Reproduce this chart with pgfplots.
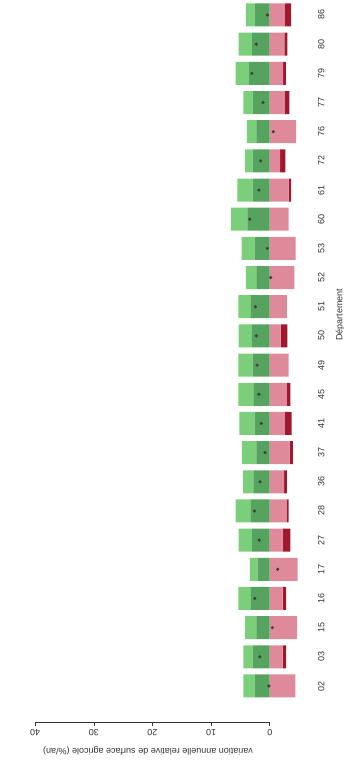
\documentclass[border=0pt]{standalone}
\usepackage{pgfplots}
\pgfplotsset{compat=1.18}
\usepackage{pgfplotstable}
\usepackage{fontspec}
\setmainfont{Liberation Sans}
\definecolor{lgreen}{HTML}{7CCF7A}
\definecolor{dgreen}{HTML}{55A35E}
\definecolor{rpink}{HTML}{DE8A9A}
\definecolor{dred}{HTML}{A0182E}
\definecolor{txt}{HTML}{333333}

% i  DG  LG  P  DR  net
\pgfplotstableread{
i  dg   lg    p      dr     net
0  2.6  1.9   -4.35  0      0.15
1  2.9  1.6   -2.2   -0.6   1.7
2  2.3  1.9   -4.65  0      -0.45
3  3.2  2.15  -2.2   -0.6   2.55
4  2.05 1.35  -4.75  0      -1.35
5  3.0  2.3   -2.2   -1.3   1.8
6  3.2  2.6   -2.9   -0.3   2.6
7  2.8  1.75  -2.45  -0.45  1.65
8  2.3  2.45  -3.4   -0.55  0.8
9  2.6  2.6   -2.6   -1.15  1.45
10 2.8  2.55  -2.9   -0.6   1.85
11 2.9  2.45  -3.2   0      2.15
12 3.0  2.3   -1.85  -1.15  2.3
13 3.2  2.15  -2.9   0      2.45
14 2.3  1.75  -4.2   0      -0.15
15 2.6  2.2   -4.4   0      0.4
16 3.8  2.8   -3.2   0      3.4
17 2.9  2.6   -3.2   -0.45  1.85
18 2.9  1.3   -1.75  -0.9   1.55
19 2.3  1.6   -4.5   0      -0.6
20 2.9  1.6   -2.6   -0.75  1.15
21 3.5  2.3   -2.3   -0.45  3.05
22 3.0  2.3   -2.5   -0.5   2.3
23 2.6  1.45  -2.6   -1.05  0.4
}\datatable

\pgfplotsset{
  common/.style={
    scale only axis, width=302pt, height=722pt,
    xmin=-5.5, xmax=46, ymin=-1.234, ymax=23.514,
    x dir=reverse,
  }
}

\begin{document}
\fontsize{9}{10}\selectfont
\begin{tikzpicture}
\begin{axis}[common,
  xbar stacked, stack negative=separate,
  bar width=23pt,
  axis x line*=bottom, axis y line*=right,
  x axis line style={draw=none}, y axis line style={draw=none},
  tick align=outside,
  xtick={0,10,20,30,40},
  major x tick style={txt, line width=0.5pt},
  major tick length=4pt,
  ytick={0,...,23},
  yticklabels={02,03,15,16,17,27,28,36,37,41,45,49,50,51,52,53,60,61,72,76,77,79,80,86},
  major y tick style={draw=none},
  /pgf/number format/assume math mode=true,
  ticklabel style={font=\fontsize{9}{10}\selectfont, text=txt},
  xticklabel style={rotate=180, anchor=south},
  yticklabel style={rotate=90, anchor=north},
  yticklabel shift=9pt,
  xlabel={variation annuelle relative de surface agricole (\%/an)},
  xlabel style={at={([yshift=-29pt]axis description cs:0.49,0)}, anchor=center, rotate=180, text=txt, font=\fontsize{9}{10}\selectfont},
  ylabel={Département},
  ylabel style={at={([xshift=38pt]axis description cs:1,0.564)}, anchor=center, text=txt, font=\fontsize{9}{10}\selectfont},
  clip=false,
]
\addplot[fill=dgreen, draw=none] table[x=dg, y=i] {\datatable};
\addplot[fill=lgreen, draw=none] table[x=lg, y=i] {\datatable};
\addplot[fill=rpink, draw=none] table[x=p, y=i] {\datatable};
\addplot[fill=dred, draw=none] table[x=dr, y=i] {\datatable};
\draw[txt, line width=0.5pt] (axis cs:0,-1.234) -- (axis cs:40,-1.234);
\end{axis}
\begin{axis}[common, hide axis]
\addplot[only marks, mark=*, mark size=1.4pt, black!75] table[x=net, y=i] {\datatable};
\end{axis}
\path (current axis.south west) ++(0,-54pt);
\path (current axis.north east) ++(47pt,0);
\end{tikzpicture}
\end{document}
